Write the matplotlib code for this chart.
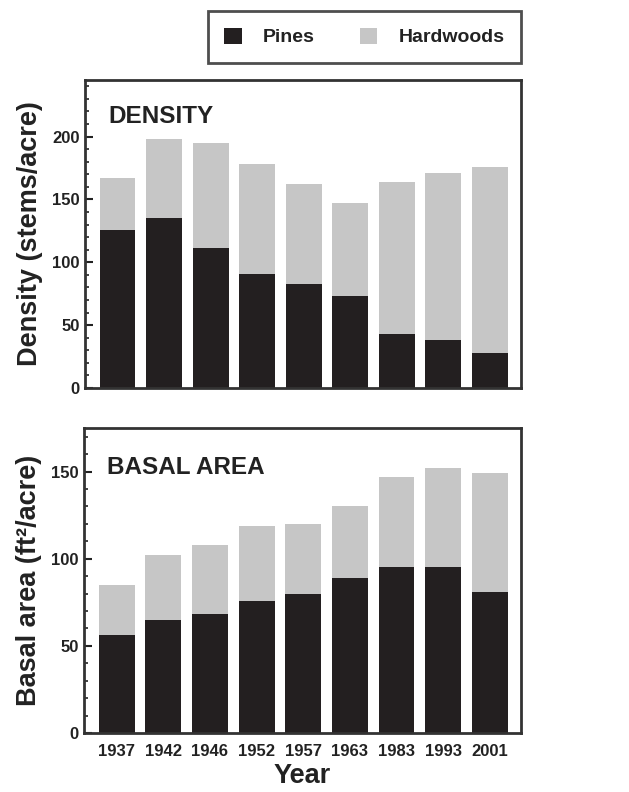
import numpy as np
import matplotlib.pyplot as plt
from matplotlib.ticker import MultipleLocator
from matplotlib.patches import Patch

plt.rcParams['font.family'] = ['Liberation Sans', 'DejaVu Sans']
plt.rcParams['font.weight'] = 'bold'
plt.rcParams['axes.labelweight'] = 'bold'

years = ['1937', '1942', '1946', '1952', '1957', '1963', '1983', '1993', '2001']

# stems/acre
dens_pines = [126, 135, 111, 91, 83, 73, 43, 38, 28]
dens_total = [167, 198, 195, 178, 162, 147, 164, 171, 176]
dens_hard = [t - p for t, p in zip(dens_total, dens_pines)]

# ft2/acre
ba_pines = [56, 65, 68, 76, 80, 89, 95, 95, 81]
ba_total = [85, 102, 108, 119, 120, 130, 147, 152, 149]
ba_hard = [t - p for t, p in zip(ba_total, ba_pines)]

pine_col = '#231f20'
hard_col = '#c6c6c6'
txt_col = '#222222'

fig = plt.figure(figsize=(6.29, 7.92), dpi=100)
ax1 = fig.add_axes([85/629, 1 - 388/792, 436/629, 308/792])
ax2 = fig.add_axes([84/629, 1 - 733/792, 437/629, 305/792])

x = np.arange(len(years))
w = 0.77

for ax, pines, hard, ymax, label, title in [
        (ax1, dens_pines, dens_hard, 245, 'Density (stems/acre)', 'DENSITY'),
        (ax2, ba_pines, ba_hard, 175, 'Basal area (ft²/acre)', 'BASAL AREA')]:
    ax.bar(x, pines, w, color=pine_col, zorder=2)
    ax.bar(x, hard, w, bottom=pines, color=hard_col, zorder=2)
    ax.set_xlim(-0.7, 8.67)
    ax.set_ylim(0, ymax)
    ax.yaxis.set_major_locator(MultipleLocator(50))
    ax.yaxis.set_minor_locator(MultipleLocator(10))
    ax.tick_params(axis='y', which='major', direction='in', length=6, width=1.5,
                   labelsize=12, colors=txt_col, pad=4)
    ax.tick_params(axis='y', which='minor', direction='in', length=3, width=1.2,
                   colors=txt_col)
    ax.set_ylabel(label, fontsize=19.5, color=txt_col, labelpad=6)
    for s in ax.spines.values():
        s.set_linewidth(2)
        s.set_color('#333333')
    ax.text(0.053, 0.88 if ax is ax1 else 0.87, title, transform=ax.transAxes,
            fontsize=17.5, color=txt_col, va='center', ha='left')

ax1.set_xticks([])
ax2.set_xticks(x)
ax2.set_xticklabels(years)
ax2.tick_params(axis='x', length=0, labelsize=12, colors=txt_col, pad=8)
ax2.set_xlabel('Year', fontsize=19.5, color=txt_col, labelpad=3)

handles = [Patch(facecolor=pine_col, label='Pines'),
           Patch(facecolor=hard_col, label='Hardwoods')]
leg = fig.legend(handles=handles, loc='upper right', bbox_to_anchor=(521/629, 1 - 11/792),
                 ncol=2, fontsize=14, frameon=True, fancybox=False,
                 edgecolor='#222222', handlelength=0.9, handleheight=0.9,
                 columnspacing=2.3, handletextpad=1.1, borderpad=0.85, borderaxespad=0)
leg.get_frame().set_linewidth(2)
for t in leg.get_texts():
    t.set_color(txt_col)

fig.savefig('out.png', dpi=100)
